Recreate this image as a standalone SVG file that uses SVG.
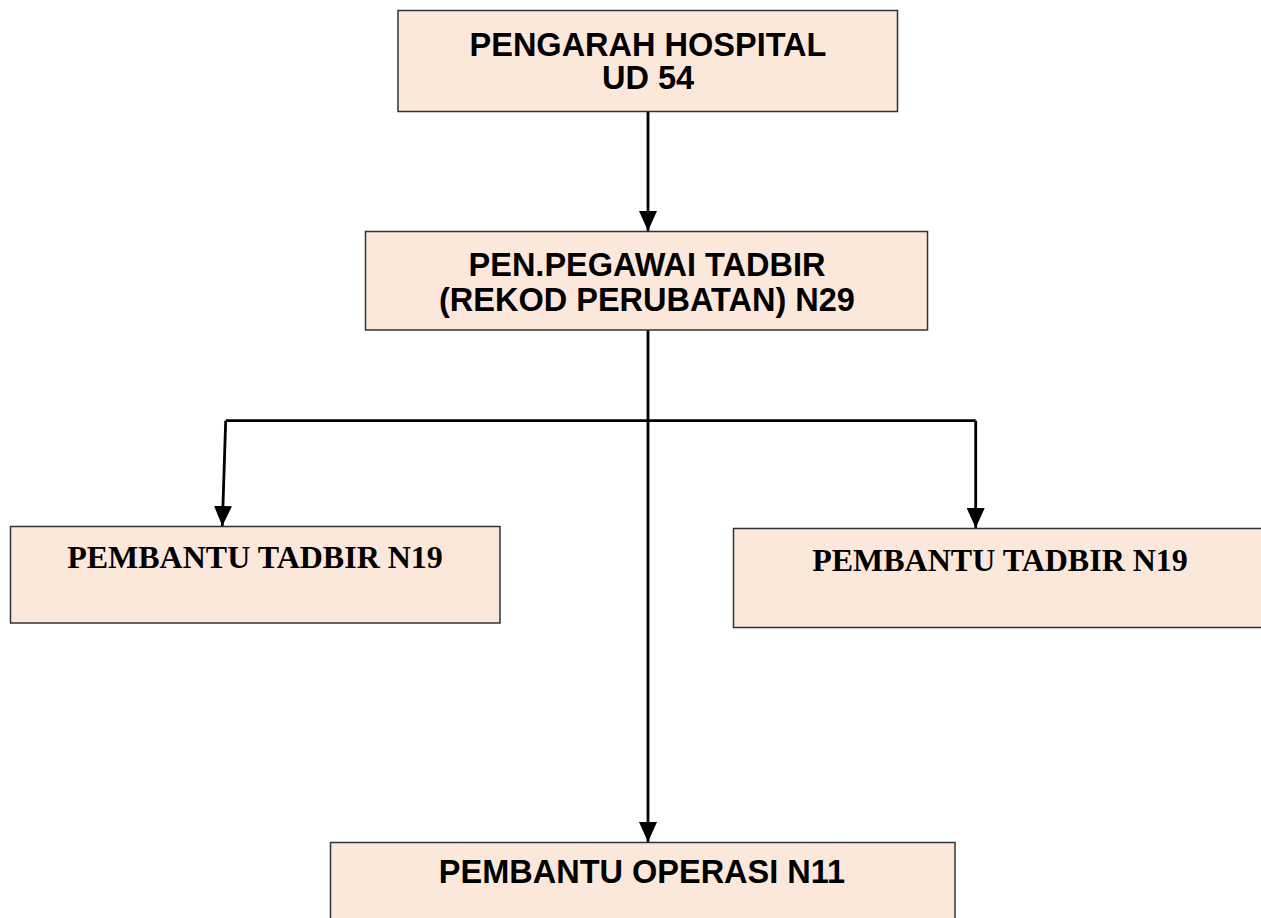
<svg xmlns="http://www.w3.org/2000/svg" width="1261" height="918" viewBox="0 0 1261 918">
  <style>
    .box { fill: #FCE8DA; stroke: #333333; stroke-width: 1.5; }
    .sans { font-family: "Liberation Sans", Arial, sans-serif; font-weight: bold; font-size: 32.5px; fill: #000; text-anchor: middle; }
    .serif { font-family: "Liberation Serif", "Times New Roman", serif; font-weight: bold; font-size: 32px; fill: #000; text-anchor: middle; }
    .conn { fill: none; stroke: #000; stroke-width: 2.8; }
  </style>
  <defs>
    <marker id="arrow" markerUnits="userSpaceOnUse" markerWidth="20" markerHeight="18" refX="20" refY="9" orient="auto">
      <path d="M0,0 L20,9 L0,18 Z" fill="#000"/>
    </marker>
  </defs>
  <rect width="1261" height="918" fill="#fff"/>

  <g id="connectors">
    <path class="conn" d="M648,112 L648,231" marker-end="url(#arrow)"/>
    <path class="conn" d="M648,330 L648,842" marker-end="url(#arrow)"/>
    <path class="conn" d="M225.7,420.7 L975.7,420.7"/>
    <path class="conn" d="M225.7,420.7 L222.3,526" marker-end="url(#arrow)"/>
    <path class="conn" d="M975.7,420.7 L975.7,528" marker-end="url(#arrow)"/>
  </g>

  <g id="node-pengarah">
    <rect class="box" x="398" y="10.5" width="499.5" height="101"/>
    <text class="sans" x="648" y="56">PENGARAH HOSPITAL</text>
    <text class="sans" x="648" y="89">UD 54</text>
  </g>

  <g id="node-pen-pegawai">
    <rect class="box" x="365.5" y="231.5" width="562" height="98.5"/>
    <text class="sans" x="647" y="276">PEN.PEGAWAI TADBIR</text>
    <text class="sans" x="647" y="311">(REKOD PERUBATAN) N29</text>
  </g>

  <g id="node-pembantu-tadbir-1">
    <rect class="box" x="10.5" y="526.5" width="489.5" height="96.5"/>
    <text class="serif" x="255" y="568">PEMBANTU TADBIR N19</text>
  </g>

  <g id="node-pembantu-tadbir-2">
    <rect class="box" x="733.5" y="528.5" width="540" height="99"/>
    <text class="serif" x="1000" y="571">PEMBANTU TADBIR N19</text>
  </g>

  <g id="node-pembantu-operasi">
    <rect class="box" x="330.5" y="842.5" width="624.5" height="90"/>
    <text class="sans" x="642" y="883">PEMBANTU OPERASI N11</text>
  </g>
</svg>
